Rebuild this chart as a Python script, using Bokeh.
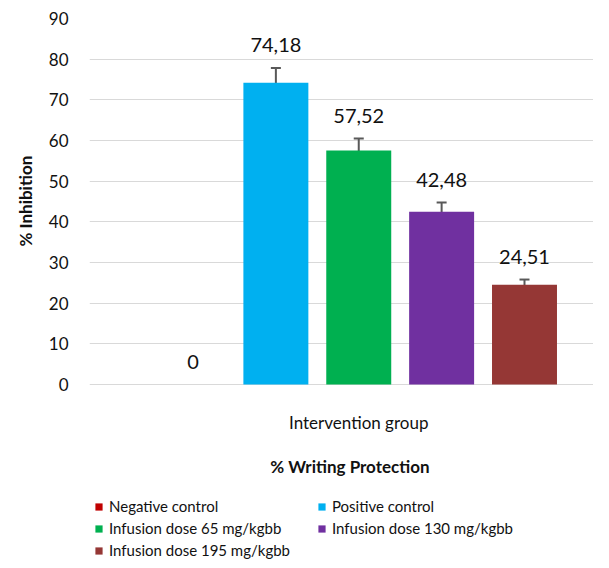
from bokeh.plotting import figure
from bokeh.models import (ColumnDataSource, Whisker, TeeHead, Label, Legend, LegendItem,
                          FixedTicker, Range1d, Title)
from bokeh.core.properties import value
from bokeh.embed import file_html
from bokeh.resources import INLINE

groups = ["Negative control", "Positive control", "Infusion dose 65 mg/kgbb",
          "Infusion dose 130 mg/kgbb", "Infusion dose 195 mg/kgbb"]
values = [0, 74.18, 57.52, 42.48, 24.51]
errors = [0, 3.65, 2.95, 2.26, 1.3]
value_labels = ["0", "74,18", "57,52", "42,48", "24,51"]
colors = ["#C00000", "#00B0F0", "#00B050", "#7030A0", "#953735"]
y_ticks = [0, 10, 20, 30, 40, 50, 60, 70, 80, 90]
x_title = "Intervention group"
chart_title = "% Writing Protection"
y_title = "% Inhibition"
# legend is filled column by column; this order gives the reference's row-wise reading
legend_order = [0, 2, 4, 1, 3]

FONT = "Lato"
TXT = "#111111"
xs = list(range(1, len(groups) + 1))
src = ColumnDataSource(dict(
    x=xs, v=values, e=errors, lab=value_labels, c=colors, g=groups,
    up=[a + b for a, b in zip(values, errors)],
))
keep = [i for i, e in enumerate(errors) if e > 0]
err_src = ColumnDataSource(dict(
    x=[xs[i] for i in keep],
    up=[values[i] + errors[i] for i in keep],
    lo=[values[i] - errors[i] for i in keep],
))

# frame extends below the value axis so that titles and legend can sit inside it
p = figure(width=593, height=559, output_backend="svg", toolbar_location=None,
           x_range=Range1d(-0.2489, 5.8326), y_range=Range1d(-43.03, 90),
           min_border_left=89, min_border_right=0, min_border_top=18,
           min_border_bottom=0)
p.outline_line_color = None
p.background_fill_color = "white"

renderers = []
for i in range(len(groups)):
    r = p.vbar(x=xs[i], top=values[i], width=0.784, fill_color=colors[i],
               line_color=None)
    renderers.append(r)

w = Whisker(source=err_src, base="x", upper="up", lower="lo", line_color="#595959",
            line_width=2,
            upper_head=TeeHead(size=10, line_color="#595959", line_width=2),
            lower_head=TeeHead(size=10, line_color="#595959", line_width=2))
p.add_layout(w)

p.text(x="x", y="up", text="lab", source=src, text_align="center",
       text_baseline="bottom", y_offset=-16, text_font=value(FONT),
       text_font_size="20px", text_color=TXT)

p.xaxis.visible = False
p.xgrid.visible = False
p.ygrid.grid_line_color = "#D9D9D9"
p.ygrid.grid_line_width = 1
p.yaxis.ticker = FixedTicker(ticks=y_ticks)
p.yaxis.axis_line_color = None
p.yaxis.major_tick_line_color = None
p.yaxis.minor_tick_line_color = None
p.yaxis.major_tick_out = 0
p.yaxis.major_tick_in = 0
p.yaxis.major_label_standoff = 21
p.yaxis.major_label_text_font = FONT
p.yaxis.major_label_text_font_size = "17px"
p.yaxis.major_label_text_color = TXT

p.add_layout(Title(text=y_title, align="left", offset=313, text_font=FONT,
                   text_font_style="bold", text_font_size="17px", text_color=TXT,
                   standoff=20), "left")

p.add_layout(Label(x=3, y=-9.3, text=x_title,
                   text_align="center", text_baseline="middle", text_font=FONT,
                   text_font_size="17px", text_color=TXT))
p.add_layout(Label(x=2.894, y=-20.2, text=chart_title,
                   text_align="center", text_baseline="middle", text_font=FONT,
                   text_font_size="17px", text_font_style="bold", text_color=TXT))

items = [LegendItem(label=groups[i], renderers=[renderers[i]]) for i in legend_order]
legend = Legend(items=items, location=(5, 0), ncols=2, orientation="vertical",
                label_text_font=FONT, label_text_font_size="15px",
                label_text_color=TXT, glyph_width=9, glyph_height=9,
                label_standoff=6, spacing=4, padding=0, margin=0, label_width=204,
                border_line_color=None, background_fill_alpha=0)
p.add_layout(legend, "center")

open("out.html", "w").write(file_html(p, INLINE))
